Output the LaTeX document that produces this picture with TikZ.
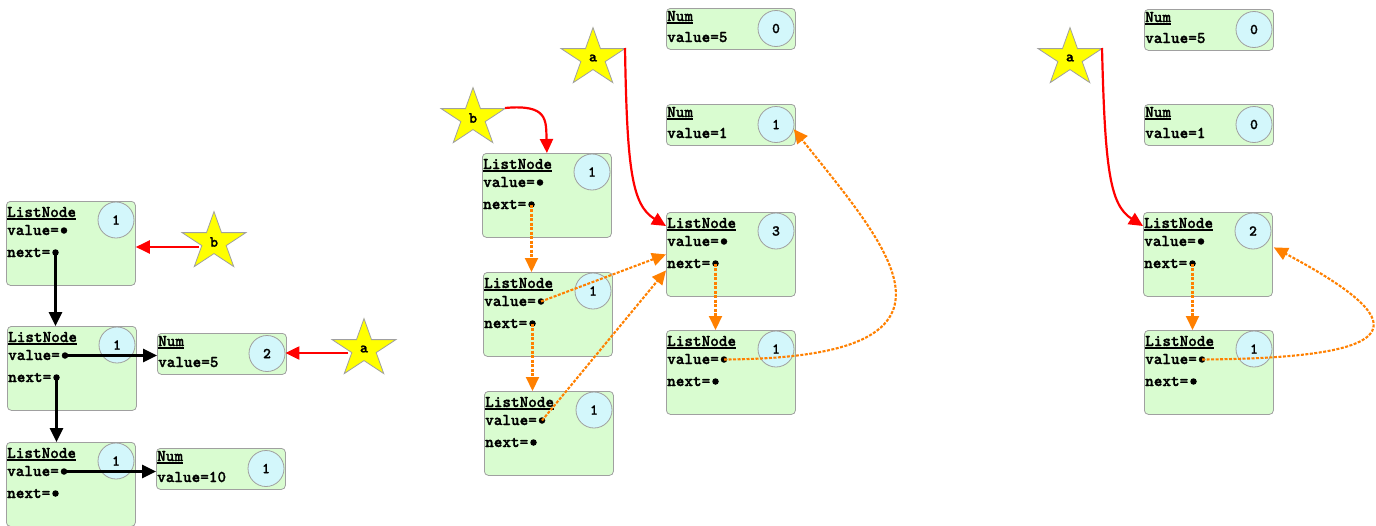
\documentclass[tikz,border=0pt]{standalone}
\usepackage{fontspec}
\usetikzlibrary{arrows.meta}
\newfontfamily\lmmb{lmmonolt10-bold.otf}[FakeBold=1.3]
\definecolor{boxgreen}{HTML}{D9FCD0}
\definecolor{cntcyan}{HTML}{D3F7FB}
\definecolor{edgegray}{HTML}{A0A0A0}
\definecolor{starfill}{HTML}{FFFF00}
\definecolor{orangeline}{HTML}{FF8000}
\definecolor{redline}{HTML}{FF0000}
\newcommand\boxfont{\lmmb\fontsize{16.4}{18}\selectfont}
\newcommand\cntfont{\lmmb\fontsize{15}{15}\selectfont}
\newcommand\starfont{\lmmb\fontsize{15.5}{15}\selectfont}
\tikzset{
  lbox/.style={draw=edgegray, fill=boxgreen, rounded corners=4pt, minimum width=129pt,
    minimum height=84pt, inner sep=0pt, anchor=north west, line width=0.8pt},
  nbox/.style={lbox, minimum height=41pt},
  cnt/.style={circle, draw=edgegray, fill=cntcyan, minimum size=36pt, inner sep=0pt,
    line width=0.8pt, font=\cntfont},
  txt/.style={anchor=base west, inner sep=0pt, font=\boxfont},
  uline/.style={line width=1.8pt, black},
  ptrdot/.style={circle, fill=black, minimum size=6.5pt, inner sep=0pt},
  blkarr/.style={-{Triangle[length=14pt,width=13pt]}, line width=2.6pt, black},
  redarr/.style={-{Triangle[length=14pt,width=13pt]}, line width=2.2pt, redline},
  orarr/.style={-{Triangle[length=14pt,width=13pt]}, line width=2.1pt, orangeline,
    dash pattern=on 3pt off 1.5pt},
  starsty/.style={fill=starfill, draw=edgegray, line width=0.8pt},
  startxt/.style={font=\starfont, inner sep=1pt}
}
\newcommand\ListNodeBox[3]{%
  \node[lbox] (#1) at (#2) {};
  \node[cnt] (#1c) at ([shift={(110,19)}]#1.north west) {#3};
  \node[txt] (#1t) at ([shift={(1,16)}]#1.north west) {ListNode};
  \draw[uline] ([shift={(0,2)}]#1t.base west) -- ([shift={(0,2)}]#1t.base east);
  \node[txt] (#1vl) at ([shift={(1,34)}]#1.north west) {value=};
  \node[txt] (#1nl) at ([shift={(1,56)}]#1.north west) {next=};
  \node[ptrdot] (#1v) at ([shift={(58,29.5)}]#1.north west) {};
  \node[ptrdot] (#1n) at ([shift={(49.5,51.5)}]#1.north west) {};
}
\newcommand\NumBox[4]{%
  \node[nbox] (#1) at (#2) {};
  \node[cnt] (#1c) at ([shift={(110,20.5)}]#1.north west) {#4};
  \node[txt] (#1t) at ([shift={(1,13)}]#1.north west) {Num};
  \draw[uline] ([shift={(0,2)}]#1t.base west) -- ([shift={(0,2)}]#1t.base east);
  \node[txt] (#1vl) at ([shift={(1,34)}]#1.north west) {value=#3};
}
\newcommand\StarNode[3]{%
  \coordinate (#1o) at (#2);
  \draw[starsty] ([shift={(90:33.6pt and 30.4pt)}]#1o)
    \foreach \k in {0,...,4}{
      -- ([shift={(126+72*\k:12.8pt and 11.6pt)}]#1o)
      -- ([shift={(162+72*\k:33.6pt and 30.4pt)}]#1o)} -- cycle;
  \node[startxt] (#1) at (#2) {#3};
}
\begin{document}
\begin{tikzpicture}[x=1pt,y=-1pt]
\useasboundingbox (0,0) rectangle (1376,525);
% ---------------- left panel ----------------
\ListNodeBox{lA}{6,201}{1}
\ListNodeBox{lB}{7,326}{1}
\ListNodeBox{lC}{6,442}{1}
\NumBox{nA}{157,333}{5}{2}
\NumBox{nB}{156,448}{10}{1}
\StarNode{sb}{214,242}{b}
\StarNode{sa}{364,349}{a}
\draw[blkarr] (lAn.center) -- (lAn |- lB.north);
\draw[blkarr] (lBn.center) -- (lBn |- lC.north);
\draw[blkarr] (lBv.center) -- (lBv -| nA.west);
\draw[blkarr] (lCv.center) -- (lCv -| nB.west);
\draw[redarr] ([shift={(-15,5)}]sbo) -- ([shift={(0,5)}]sbo -| lA.east);
\draw[redarr] ([shift={(-16,4)}]sao) -- ([shift={(0,4)}]sao -| nAc.east);
% ---------------- middle panel ----------------
\NumBox{mN5}{666,8}{5}{0}
\NumBox{mN1}{666,104}{1}{1}
\ListNodeBox{mA}{482,153}{1}
\ListNodeBox{mB}{483,272}{1}
\ListNodeBox{mC}{484,391}{1}
\ListNodeBox{mX}{666,212}{3}
\ListNodeBox{mD}{666,330}{1}
\StarNode{ma}{593,58}{a}
\StarNode{mb}{473,118}{b}
\draw[redarr] ([shift={(32,-10)}]mao) .. controls (627,170) and (632,205) .. ([shift={(0,14)}]mX.north west);
\draw[redarr] ([shift={(32,-10)}]mbo) .. controls (548,104) and (546,120) .. (mA.north);
\draw[orarr] (mAn.center) -- (mAn |- mB.north);
\draw[orarr] (mBn.center) -- (mBn |- mC.north);
\draw[orarr] (mBv.center) -- (mX.west);
\draw[orarr] (mCv.center) -- ([shift={(0,16)}]mX.west);
\draw[orarr] (mXn.center) -- (mXn |- mD.north);
\draw[orarr] (mDv.center) .. controls (990,358) and (890,250) .. (mN1c.-15);
% ---------------- right panel ----------------
\NumBox{rN5}{1144,9}{5}{0}
\NumBox{rN1}{1144,104}{1}{0}
\ListNodeBox{rX}{1143,212}{2}
\ListNodeBox{rD}{1144,330}{1}
\StarNode{ra}{1070,58}{a}
\draw[redarr] ([shift={(32,-10)}]rao) .. controls (1105,170) and (1110,205) .. ([shift={(0,14)}]rX.north west);
\draw[orarr] (rXn.center) -- (rXn |- rD.north);
\draw[orarr] (rDv.center) .. controls (1420,358) and (1410,320) .. ([shift={(1,-7)}]rX.east);
\end{tikzpicture}
\end{document}
